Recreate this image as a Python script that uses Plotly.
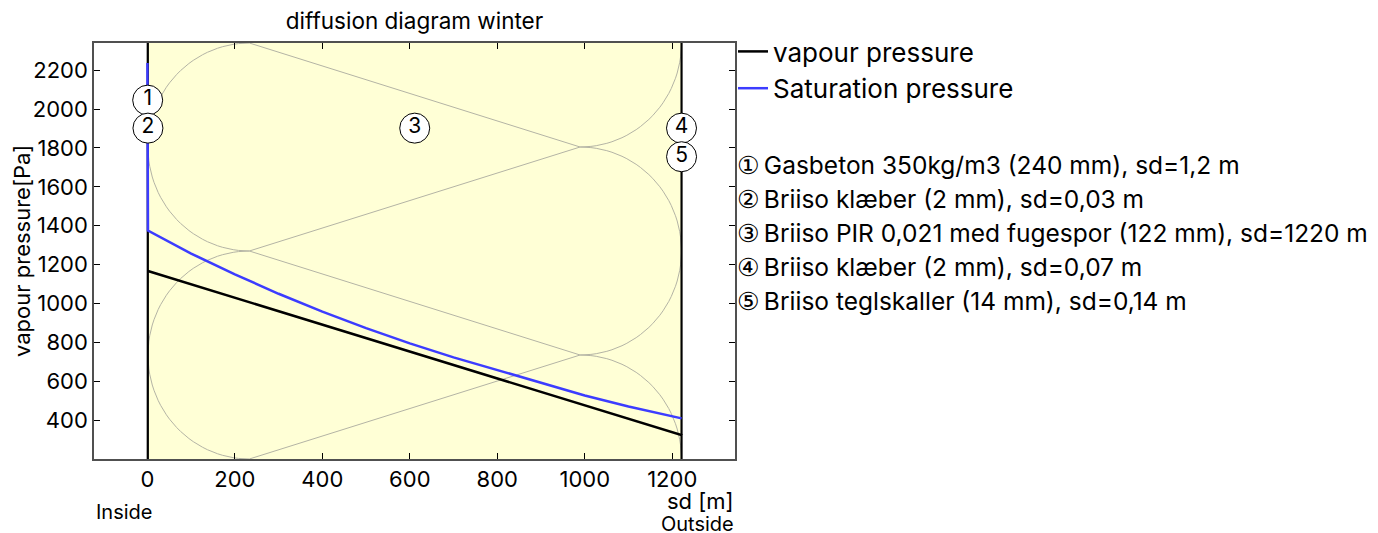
import numpy as np
import plotly.graph_objects as go

# layers (inside -> outside)
layer_names = ["Gasbeton 350kg/m3 (240 mm), sd=1,2 m",
               "Briiso klæber (2 mm), sd=0,03 m",
               "Briiso PIR 0,021 med fugespor (122 mm), sd=1220 m",
               "Briiso klæber (2 mm), sd=0,07 m",
               "Briiso teglskaller (14 mm), sd=0,14 m"]
layer_sd = [1.2, 0.03, 1220, 0.07, 0.14]
layer_marks = ["1", "2", "3", "4", "5"]
circled = ["①", "②", "③", "④", "⑤"]
mark_y = [2046, 1902, 1902, 1902, 1755]

# vapour pressure at layer boundaries
vp_x = [0, 1.2, 1.23, 1221.23, 1221.30, 1221.44]
vp_y = [1168, 1167, 1167, 323, 322, 322]

# saturation pressure
sat_x = [0, 1.2, 1.23, 100, 200, 300, 400, 500, 600, 700, 800, 900,
         1000, 1100, 1200, 1221.23, 1221.30, 1221.44]
sat_y = [2237, 1380, 1375, 1257, 1150, 1050, 958, 873, 795, 723, 657, 592,
         527, 470, 420, 411, 410, 409]

y_range = [200, 2340]

FONT = "Inter"
W, H = 1370, 525          # page has an 8px body margin
L, T = 86, 35
PW, PH = 641, 416
R, B = W - L - PW, H - T - PH


def py_page(y):
    # page pixel y -> paper coordinate
    return 1 - (y - 8 - T) / PH


bounds = np.concatenate([[0], np.cumsum(layer_sd)])
total = bounds[-1]
x_range = [-0.1 * total, 1.1 * total]

fig = go.Figure()

# insulation hatch for the thick layer
x0, x1 = bounds[2], bounds[3]
w = 0.19 * (x1 - x0)
h = (y_range[1] - y_range[0]) / 4
cl, cr = x0 + w, x1 - w
left_c = [y_range[1] - h, y_range[1] - 3 * h]
right_c = [y_range[1], y_range[1] - 2 * h, y_range[0]]
hx, hy = [], []
t_left = np.linspace(np.pi / 2, 3 * np.pi / 2, 60)
t_right = np.linspace(-np.pi / 2, np.pi / 2, 60)
for yc in left_c:
    hx += list(cl + w * np.cos(t_left)) + [None]
    hy += list(yc + h * np.sin(t_left)) + [None]
for yc in right_c:
    hx += list(cr + w * np.cos(t_right)) + [None]
    hy += list(yc + h * np.sin(t_right)) + [None]
for yl in left_c:
    for yr in right_c:
        if abs(abs(yl - yr) - h) < 1e-6:
            s = np.sign(yr - yl)
            hx += [cl, cr, None]
            hy += [yl + s * h, yr - s * h, None]
fig.add_trace(go.Scatter(x=hx, y=hy, mode="lines", showlegend=False,
                         hoverinfo="skip",
                         line=dict(color="rgb(180,180,165)", width=1)))

# layer boundaries
for b in bounds:
    fig.add_trace(go.Scatter(x=[b, b], y=y_range, mode="lines",
                             showlegend=False, hoverinfo="skip",
                             line=dict(color="black", width=1.5)))

fig.add_trace(go.Scatter(x=vp_x, y=vp_y, mode="lines", name="vapour pressure",
                         legendgroup="a",
                         line=dict(color="black", width=2.5)))
fig.add_trace(go.Scatter(x=sat_x, y=sat_y, mode="lines",
                         name="Saturation pressure", legendgroup="b",
                         line=dict(color="rgb(60,60,255)", width=2.5)))

# layer number markers
mid = [(bounds[i] + bounds[i + 1]) / 2 for i in range(len(layer_sd))]
fig.add_trace(go.Scatter(x=mid, y=mark_y, mode="markers+text",
                         text=layer_marks, textposition="middle center",
                         textfont=dict(size=21, color="black", family=FONT),
                         marker=dict(symbol="circle", size=30, color="white",
                                     line=dict(color="black", width=1)),
                         showlegend=False, cliponaxis=False, hoverinfo="skip"))

fig.add_shape(type="rect", xref="x", yref="paper", x0=0, x1=total, y0=0, y1=1,
              fillcolor="#ffffd6", line_width=0, layer="below")

for i, name in enumerate(layer_names):
    fig.add_annotation(xref="paper", yref="paper", x=1.0,
                       xanchor="left", y=py_page(165 + i * 34), yanchor="middle",
                       text='<span style="font-family:DejaVu Sans;font-size:25px">'
                            + circled[i] + "</span>\u2009" + name,
                       showarrow=False,
                       font=dict(size=24.5, color="black"))

fig.add_annotation(xref="paper", yref="paper", x=1, xanchor="right",
                   y=py_page(501), yanchor="middle", text="sd [m]",
                   showarrow=False, borderpad=0,
                   font=dict(size=22, color="black"))
fig.add_annotation(xref="paper", yref="paper", x=1, xanchor="right",
                   y=py_page(524), yanchor="middle", text="Outside",
                   showarrow=False, borderpad=0,
                   font=dict(size=20, color="black"))
fig.add_annotation(xref="paper", yref="paper", x=0, xanchor="left",
                   y=py_page(512), yanchor="middle", text="Inside",
                   showarrow=False, font=dict(size=20, color="black"))
fig.add_annotation(xref="paper", yref="paper", x=(22 - 8 - L) / PW,
                   xanchor="center", y=py_page(251), yanchor="middle",
                   text="vapour pressure[Pa]", textangle=-90,
                   showarrow=False, font=dict(size=22, color="black"))

axis_style = dict(showline=True, mirror="ticks", linecolor="#505050",
                  linewidth=1.5, ticks="inside", ticklen=6,
                  tickcolor="black", showgrid=False, zeroline=False,
                  tickfont=dict(size=22, color="black"))

fig.update_layout(title=dict(text="diffusion diagram winter",
                             font=dict(size=22.5, color="black"),
                             x=0.5, xref="paper", y=1 - (21 - 8) / H,
                             yanchor="middle"),
                  xaxis=dict(range=x_range, tickvals=[0, 200, 400, 600, 800, 1000, 1200],
                             **axis_style),
                  yaxis=dict(range=y_range,
                             tickvals=[400, 600, 800, 1000, 1200, 1400, 1600,
                                       1800, 2000, 2200],
                             **axis_style),
                  legend=dict(x=1.0 + (733 - 8 - L - PW) / PW, y=py_page(28),
                              xanchor="left", yanchor="top",
                              font=dict(size=26, color="black"),
                              bgcolor="rgba(0,0,0,0)", tracegroupgap=0,
                              traceorder="grouped"),
                  plot_bgcolor="white",
                  paper_bgcolor="white",
                  width=W, height=H,
                  margin=dict(l=L, r=R, t=T, b=B),
                  font=dict(family=FONT, color="black"))

fig.write_html("out.html")
